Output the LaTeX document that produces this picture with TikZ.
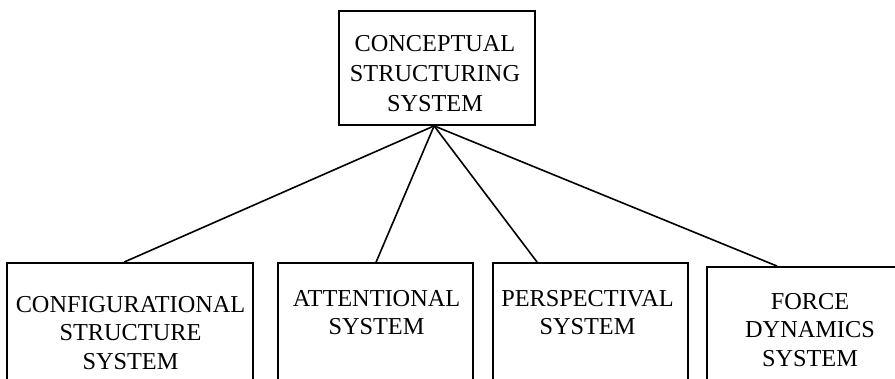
\documentclass[tikz,border=0pt]{standalone}
\usepackage{fontspec}
\setmainfont{Liberation Serif}
\usetikzlibrary{calc}
\begin{document}
\begin{tikzpicture}[x=1pt,y=-1pt,
  box/.style={draw, line width=1.8pt, inner sep=0pt, rectangle},
  lbl/.style={anchor=north, inner sep=0pt, align=center, font=\fontsize{24.3}{28.5}\selectfont},
  toplbl/.style={lbl, font=\fontsize{24.3}{30}\selectfont},
  link/.style={line width=1.6pt}]
\useasboundingbox (0,0) rectangle (895,379);
% boxes
\node[box, minimum width=196pt, minimum height=114pt] (top) at (437,68) {};
\node[box, minimum width=246pt, minimum height=157pt] (b1) at (130,341.5) {};
\node[box, minimum width=195pt, minimum height=157pt] (b2) at (375.5,341.5) {};
\node[box, minimum width=195pt, minimum height=157pt] (b3) at (590.5,341.5) {};
\node[box, minimum width=206pt, minimum height=153pt] (b4) at (810,343.5) {};
% labels
\node[toplbl] (t0) at (435,35) {CONCEPTUAL\\STRUCTURING\\SYSTEM};
\node[lbl] (t1) at (130.5,296) {CONFIGURATIONAL\\STRUCTURE\\SYSTEM};
\node[lbl] (t2) at (376.5,290) {ATTENTIONAL\\SYSTEM};
\node[lbl] (t3) at (587.5,290) {PERSPECTIVAL\\SYSTEM};
\node[lbl] (t4) at (810,293) {FORCE\\DYNAMICS\\SYSTEM};
% connectors
\coordinate (hub) at ($(top.south west)+(96,0)$);
\draw[link] (hub) -- ($(b1.north west)+(118,0)$);
\draw[link] (hub) -- ($(b2.north west)+(99,0)$);
\draw[link] (hub) -- ($(b3.north west)+(45,0)$);
\draw[link] (hub) -- ($(b4.north west)+(71,0)$);
\end{tikzpicture}
\end{document}
